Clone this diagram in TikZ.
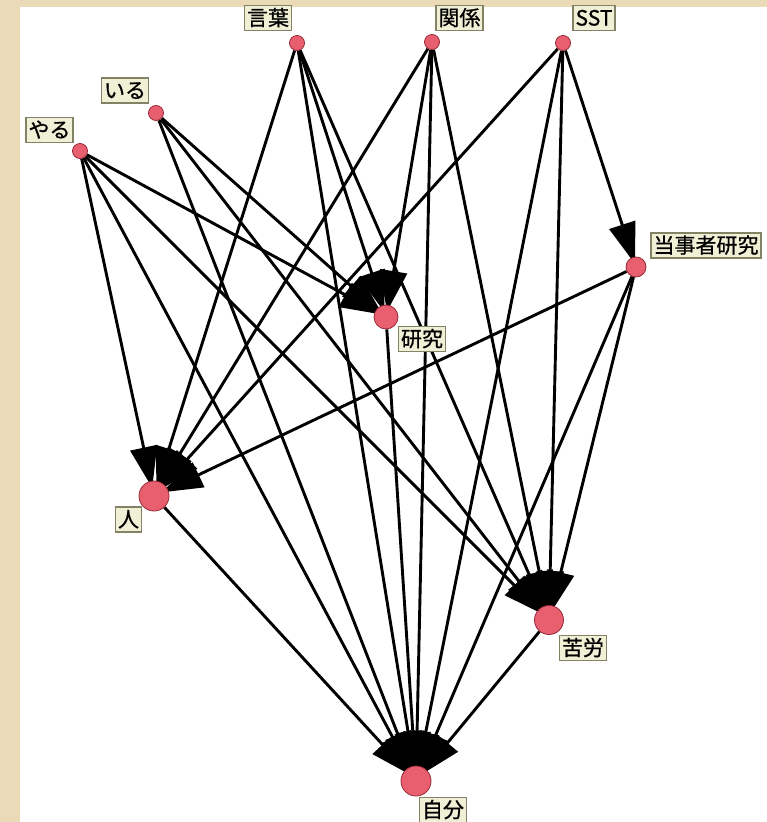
\documentclass[tikz,border=0pt]{standalone}
\usepackage{fontspec}
\newfontfamily\jp[FakeBold=0.8]{Noto Sans CJK JP}
\usetikzlibrary{arrows.meta}
\pgfdeclarelayer{edges}
\pgfsetlayers{edges,main}
\definecolor{bgtan}{RGB}{234,218,184}
\definecolor{nodepink}{RGB}{232,96,112}
\definecolor{nodeedge}{RGB}{150,40,55}
\definecolor{labfill}{RGB}{240,240,214}
\definecolor{labdraw}{RGB}{130,130,100}
\begin{document}
\begin{tikzpicture}[x=1pt,y=-1pt,
  vtx/.style={circle,fill=nodepink,draw=nodeedge,line width=0.8pt,inner sep=0pt,minimum size=#1},
  lab/.style={draw=labdraw,fill=labfill,line width=1.2pt,font=\jp\fontsize{21}{21}\selectfont,inner xsep=2.5pt,inner ysep=0pt,minimum height=25pt,text height=18pt,text depth=3pt},
  link/.style={line width=2.9pt,shorten >=-7pt,-{Triangle[length=41pt,width=27pt]}}]
\useasboundingbox (0,0) rectangle (767,822);
% nodes
\node[vtx=15pt] (yaru) at (80,151) {};
\node[vtx=15pt] (iru) at (156,113) {};
\node[vtx=15pt] (kotoba) at (297,43) {};
\node[vtx=15pt] (kankei) at (432,42) {};
\node[vtx=15pt] (sst) at (563,43) {};
\node[vtx=20pt] (tojisha) at (636,267) {};
\node[vtx=24pt] (kenkyu) at (386,317) {};
\node[vtx=30pt] (hito) at (154,496) {};
\node[vtx=29pt] (kuro) at (549,620) {};
\node[vtx=30pt] (jibun) at (416,781) {};
% labels
\node[lab] (lyaru) at (49.5,130) {やる};
\node[lab] (liru) at (125,90.5) {いる};
\node[lab] (lkotoba) at (268,18) {言葉};
\node[lab] (lkankei) at (459.5,18) {関係};
\node[lab] (lsst) at (594,18) {SST};
\node[lab] (ltojisha) at (706,245.5) {当事者研究};
\node[lab] (lkenkyu) at (422,339) {研究};
\node[lab] (lhito) at (128.5,519.5) {人};
\node[lab] (lkuro) at (583,648) {苦労};
\node[lab] (ljibun) at (443,810) {自分};
\begin{pgfonlayer}{edges}
\fill[bgtan] (0,0) rectangle (767,822);
\fill[white] (20,7) rectangle (767,822);
\draw[link] (yaru) -- (hito);
\draw[link] (yaru) -- (kenkyu);
\draw[link] (yaru) -- (kuro);
\draw[link] (yaru) -- (jibun);
\draw[link] (iru) -- (kenkyu);
\draw[link] (iru) -- (kuro);
\draw[link] (iru) -- (jibun);
\draw[link] (kotoba) -- (hito);
\draw[link] (kotoba) -- (kenkyu);
\draw[link] (kotoba) -- (kuro);
\draw[link] (kotoba) -- (jibun);
\draw[link] (kankei) -- (hito);
\draw[link] (kankei) -- (kenkyu);
\draw[link] (kankei) -- (kuro);
\draw[link] (kankei) -- (jibun);
\draw[link] (sst) -- (hito);
\draw[link] (sst) -- (tojisha);
\draw[link] (sst) -- (kuro);
\draw[link] (sst) -- (jibun);
\draw[link] (tojisha) -- (hito);
\draw[link] (tojisha) -- (kuro);
\draw[link] (tojisha) -- (jibun);
\draw[link] (kenkyu) -- (jibun);
\draw[link] (hito) -- (jibun);
\draw[link] (kuro) -- (jibun);
\end{pgfonlayer}
\end{tikzpicture}
\end{document}
